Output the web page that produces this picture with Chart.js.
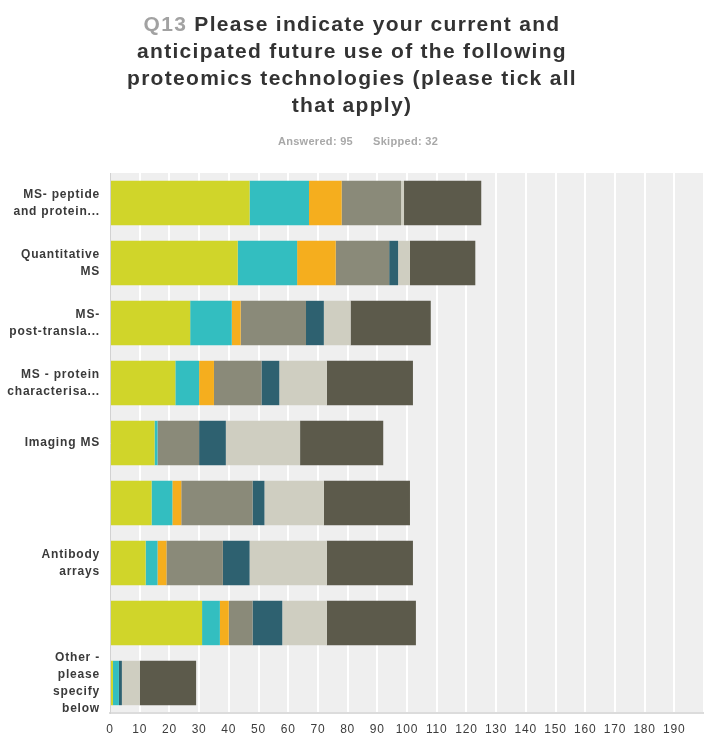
<!DOCTYPE html>
<html>
<head>
<meta charset="utf-8">
<script src="https://cdn.jsdelivr.net/npm/chart.js@4"></script>
<style>
  html, body { margin: 0; padding: 0; background: #fff; }
  body { width: 704px; height: 736px; position: relative; overflow: hidden; font-family: "Liberation Sans", Arial, sans-serif; }
  #title { position: absolute; top: 10px; left: 0; width: 704px; text-align: center; font-size: 21px; font-weight: bold; line-height: 27px; letter-spacing: 1.3px; color: #333; z-index: 2; }
  #title .qnum { color: #a2a2a2; }
  #meta { position: absolute; top: 134px; left: 6px; width: 704px; text-align: center; font-size: 11px; font-weight: bold; line-height: 14px; letter-spacing: 0.3px; color: #a8a8a8; z-index: 2; }
  #meta span + span { margin-left: 20px; }
  #wrap { position: absolute; left: 0; top: 0; width: 704px; height: 736px; }
</style>
</head>
<body>
<div id="title"><span class="qnum">Q13</span> Please indicate your current and<br>anticipated future use of the following<br>proteomics technologies (please tick all<br>that apply)</div>
<div id="meta"><span>Answered: 95</span><span>Skipped: 32</span></div>
<div id="wrap"><canvas id="chart"></canvas></div>
<script>
const categories = [
  ["MS- peptide", "and protein..."],
  ["Quantitative", "MS"],
  ["MS-", "post-transla..."],
  ["MS - protein", "characterisa..."],
  "Imaging MS",
  "",
  ["Antibody", "arrays"],
  "",
  ["Other -", "please", "specify", "below"]
];

// one array per answer option, one value per technology
const seriesA = [47, 43, 27, 22, 15, 14, 12, 31, 1];
const seriesB = [20, 20, 14, 8, 1, 7, 4, 6, 2];
const seriesC = [11, 13, 3, 5, 0, 3, 3, 3, 0];
const seriesD = [20, 18, 22, 16, 14, 24, 19, 8, 0];
const seriesE = [0, 3, 6, 6, 9, 4, 9, 10, 1];
const seriesF = [1, 4, 9, 16, 25, 20, 26, 15, 6];
const seriesG = [26, 22, 27, 29, 28, 29, 29, 30, 19];

const xMax = 200;
const xStep = 10;

const colours = ["#d0d52a", "#33bec0", "#f5ae1e", "#8a8a79", "#2e6170", "#cfcec1", "#5c5a4b"];
const allSeries = [seriesA, seriesB, seriesC, seriesD, seriesE, seriesF, seriesG];

// grey plot area behind the white grid lines
const plotBackground = {
  id: "plotBackground",
  beforeDraw(chart) {
    const { ctx, chartArea } = chart;
    ctx.save();
    ctx.fillStyle = "#efefef";
    ctx.fillRect(chartArea.left, chartArea.top, chartArea.right - chartArea.left, chartArea.bottom - chartArea.top);
    ctx.restore();
  }
};

// the axis text is set a little wider than the plain font
const spacedText = {
  id: "spacedText",
  beforeLayout(chart) { chart.ctx.letterSpacing = "0.8px"; },
  beforeDraw(chart) { chart.ctx.letterSpacing = "0.8px"; }
};

const tickFont = "'Liberation Sans', Arial, sans-serif";

new Chart(document.querySelector("#chart"), {
  type: "bar",
  data: {
    labels: categories,
    datasets: allSeries.map((data, i) => ({
      label: "Option " + (i + 1),
      data,
      backgroundColor: colours[i],
      borderWidth: 0,
      barPercentage: 0.74,
      categoryPercentage: 1
    }))
  },
  options: {
    indexAxis: "y",
    responsive: true,
    maintainAspectRatio: false,
    animation: false,
    layout: { padding: { top: 173, left: 0, right: 0, bottom: 0 } },
    plugins: {
      legend: { display: false },
      tooltip: { enabled: false }
    },
    scales: {
      x: {
        stacked: true,
        min: 0,
        max: xMax,
        afterFit: scale => { scale.height = 23; scale.paddingLeft = 0; scale.paddingRight = 0; },
        ticks: {
          stepSize: xStep,
          padding: 9,
          color: "#3c3c3c",
          font: { family: tickFont, size: 12 },
          callback: v => (v === xMax ? "" : v)
        },
        grid: { color: "#ffffff", lineWidth: 2, drawTicks: false },
        border: { color: "#dcdcdc", width: 2 }
      },
      y: {
        stacked: true,
        afterFit: scale => { scale.width = 110; scale.paddingTop = 0; scale.paddingBottom = 0; },
        ticks: {
          autoSkip: false,
          padding: 10,
          color: "#3a3a3a",
          font: { family: tickFont, size: 12, weight: "bold", lineHeight: 1.42 }
        },
        grid: { display: false, drawTicks: false },
        border: { color: "#d2d2d2", width: 1 }
      }
    }
  },
  plugins: [plotBackground, spacedText]
});
</script>
</body>
</html>
